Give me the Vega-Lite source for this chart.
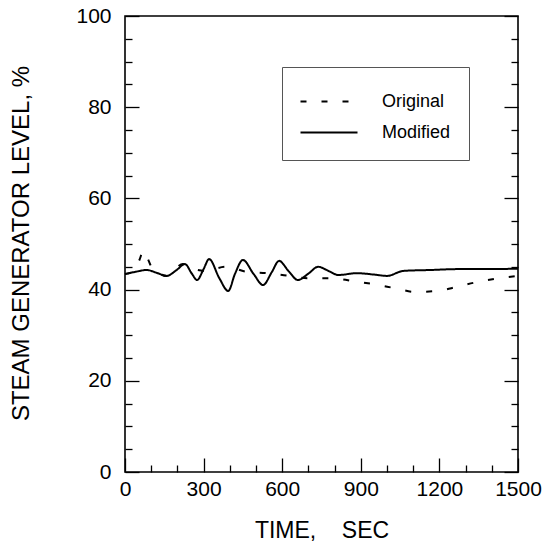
{
  "$schema": "https://vega.github.io/schema/vega-lite/v6.json",
  "width": 393,
  "height": 456,
  "autosize": "none",
  "padding": {"left": 125, "top": 16, "right": 32, "bottom": 75},
  "background": "white",
  "config": {
    "font": "Liberation Sans",
    "view": {"stroke": "black", "strokeWidth": 1.6},
    "axis": {"domain": false, "grid": false, "tickColor": "black", "labelColor": "black", "titleColor": "black", "labelFont": "Liberation Sans", "titleFont": "Liberation Sans", "titleFontWeight": "normal", "tickWidth": 1.3}
  },
  "data": {"values": [
    {"t": 0, "v": 43.4, "s": "Modified"},
    {"t": 40, "v": 43.9, "s": "Modified"},
    {"t": 83, "v": 44.3, "s": "Modified"},
    {"t": 120, "v": 43.7, "s": "Modified"},
    {"t": 159, "v": 43.0, "s": "Modified"},
    {"t": 195, "v": 44.2, "s": "Modified"},
    {"t": 229, "v": 45.6, "s": "Modified"},
    {"t": 255, "v": 43.5, "s": "Modified"},
    {"t": 275, "v": 42.1, "s": "Modified"},
    {"t": 300, "v": 44.5, "s": "Modified"},
    {"t": 321, "v": 46.7, "s": "Modified"},
    {"t": 360, "v": 42.5, "s": "Modified"},
    {"t": 394, "v": 39.7, "s": "Modified"},
    {"t": 420, "v": 43.5, "s": "Modified"},
    {"t": 450, "v": 46.5, "s": "Modified"},
    {"t": 490, "v": 43.5, "s": "Modified"},
    {"t": 527, "v": 41.0, "s": "Modified"},
    {"t": 560, "v": 43.8, "s": "Modified"},
    {"t": 588, "v": 46.3, "s": "Modified"},
    {"t": 625, "v": 44.0, "s": "Modified"},
    {"t": 660, "v": 42.1, "s": "Modified"},
    {"t": 700, "v": 43.5, "s": "Modified"},
    {"t": 737, "v": 45.0, "s": "Modified"},
    {"t": 780, "v": 44.0, "s": "Modified"},
    {"t": 814, "v": 43.2, "s": "Modified"},
    {"t": 885, "v": 43.6, "s": "Modified"},
    {"t": 950, "v": 43.3, "s": "Modified"},
    {"t": 1000, "v": 43.0, "s": "Modified"},
    {"t": 1062, "v": 44.1, "s": "Modified"},
    {"t": 1165, "v": 44.3, "s": "Modified"},
    {"t": 1279, "v": 44.5, "s": "Modified"},
    {"t": 1400, "v": 44.5, "s": "Modified"},
    {"t": 1500, "v": 44.6, "s": "Modified"},
    {"t": 0, "v": 43.4, "s": "Original"},
    {"t": 30, "v": 44.0, "s": "Original"},
    {"t": 55, "v": 46.5, "s": "Original"},
    {"t": 70, "v": 48.5, "s": "Original"},
    {"t": 85, "v": 47.0, "s": "Original"},
    {"t": 105, "v": 44.5, "s": "Original"},
    {"t": 130, "v": 43.5, "s": "Original"},
    {"t": 160, "v": 43.0, "s": "Original"},
    {"t": 190, "v": 44.5, "s": "Original"},
    {"t": 221, "v": 45.6, "s": "Original"},
    {"t": 260, "v": 44.6, "s": "Original"},
    {"t": 305, "v": 44.1, "s": "Original"},
    {"t": 385, "v": 45.0, "s": "Original"},
    {"t": 465, "v": 43.9, "s": "Original"},
    {"t": 542, "v": 43.6, "s": "Original"},
    {"t": 630, "v": 43.0, "s": "Original"},
    {"t": 698, "v": 42.5, "s": "Original"},
    {"t": 790, "v": 42.5, "s": "Original"},
    {"t": 866, "v": 41.9, "s": "Original"},
    {"t": 947, "v": 41.2, "s": "Original"},
    {"t": 1031, "v": 40.3, "s": "Original"},
    {"t": 1107, "v": 39.5, "s": "Original"},
    {"t": 1191, "v": 39.7, "s": "Original"},
    {"t": 1267, "v": 40.6, "s": "Original"},
    {"t": 1347, "v": 41.7, "s": "Original"},
    {"t": 1427, "v": 42.5, "s": "Original"},
    {"t": 1500, "v": 43.0, "s": "Original"}
  ]},
  "resolve": {"axis": {"x": "independent", "y": "independent"}},
  "layer": [
    {
      "mark": {"type": "line", "color": "black", "strokeWidth": 2, "interpolate": "monotone"},
      "encoding": {
        "x": {"field": "t", "type": "quantitative", "scale": {"domain": [0, 1500], "nice": false},
          "axis": {"orient": "bottom", "values": [0, 300, 600, 900, 1200, 1500], "format": "d", "ticks": false,
            "labelFontSize": 21, "labelPadding": 6, "labelFlush": false, "labelOverlap": false,
            "title": "TIME,\u00a0\u00a0\u00a0\u00a0SEC", "titleFontSize": 23, "titleY": 65, "titleBaseline": "alphabetic"}},
        "y": {"field": "v", "type": "quantitative", "scale": {"domain": [0, 100], "nice": false},
          "axis": {"orient": "left", "values": [0, 20, 40, 60, 80, 100], "ticks": false,
            "labelFontSize": 21, "labelPadding": 14, "labelFlush": false, "labelOverlap": false,
            "title": "STEAM GENERATOR LEVEL, %", "titleFontSize": 24, "titleX": -104, "titleY": 227, "titleAngle": -90, "titleAlign": "center", "titleBaseline": "middle"}},
        "strokeDash": {"field": "s", "type": "nominal",
          "scale": {"domain": ["Original", "Modified"], "range": [[6, 15], [1, 0]]},
          "legend": {"orient": "none", "legendX": 157, "legendY": 51, "title": null, "symbolType": "M-1.9,0L1.9,0", "symbolSize": 900, "symbolStrokeWidth": 2, "symbolStrokeColor": "black", "symbolFillColor": "transparent", "symbolOffset": 12.5, "labelFontSize": 18, "labelColor": "black", "labelOffset": 37, "rowPadding": 6, "padding": 18.5, "strokeColor": "#555"}}
      }
    },
    {
      "mark": {"type": "line", "opacity": 0},
      "encoding": {
        "x": {"field": "t", "type": "quantitative",
          "axis": {"orient": "top", "offset": -456, "values": [0, 100, 200, 300, 400, 500, 600, 700, 800, 900, 1000, 1100, 1200, 1300, 1400, 1500],
            "tickSize": {"condition": {"test": "datum.value % 300 === 0", "value": 14}, "value": 7},
            "labels": false, "title": null}},
        "y": {"field": "v", "type": "quantitative",
          "axis": {"orient": "right", "offset": -393, "values": [0, 5, 10, 15, 20, 25, 30, 35, 40, 45, 50, 55, 60, 65, 70, 75, 80, 85, 90, 95, 100],
            "tickSize": {"condition": {"test": "datum.value % 20 === 0", "value": 14}, "value": 7},
            "labels": false, "title": null}}
      }
    },
    {
      "mark": {"type": "line", "opacity": 0},
      "encoding": {
        "x": {"field": "t", "type": "quantitative", "axis": null},
        "y": {"field": "v", "type": "quantitative",
          "axis": {"orient": "right", "values": [0, 5, 10, 15, 20, 25, 30, 35, 40, 45, 50, 55, 60, 65, 70, 75, 80, 85, 90, 95, 100],
            "tickSize": {"condition": {"test": "datum.value % 20 === 0", "value": -14}, "value": -7},
            "labels": false, "title": null}}
      }
    }
  ]
}
